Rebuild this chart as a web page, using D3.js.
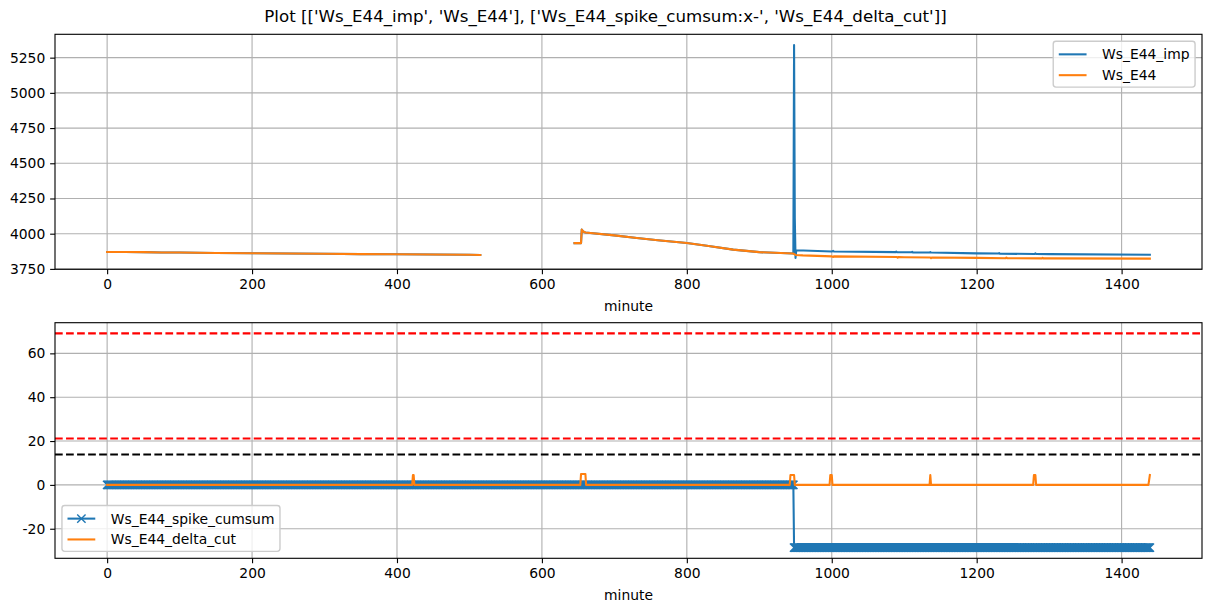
<!DOCTYPE html>
<html><head><meta charset="utf-8">
<script src="https://cdn.jsdelivr.net/npm/d3@7"></script>
<style>
body{margin:0;background:#fff}
svg{display:block}
text{font-family:"DejaVu Sans",sans-serif}
</style>
</head><body>
<svg id="c" width="1211" height="611"></svg>
<script>
// ---------------- data ----------------
const titleText = "Plot [['Ws_E44_imp', 'Ws_E44'], ['Ws_E44_spike_cumsum:x-', 'Ws_E44_delta_cut']]";
const xLabel = "minute";
const xTicks = [0, 200, 400, 600, 800, 1000, 1200, 1400];
const topYTicks = [3750, 4000, 4250, 4500, 4750, 5000, 5250];
const bottomYTicks = [-20, 0, 20, 40, 60];
const topLegend = ["Ws_E44_imp", "Ws_E44"];
const bottomLegend = ["Ws_E44_spike_cumsum", "Ws_E44_delta_cut"];

// Ws_E44 (orange); null = missing data
const wsMinutes = [0, 25, 50, 75, 100, 150, 200, 250, 300, 350, 400, 450, 500, 515, 580,
  645, 654, 655, 657, 660, 700, 731, 760, 800, 830, 864, 900, 947, 950, 960, 1000, 1002, 1003,
  1090, 1091, 1092, 1100, 1136, 1137, 1138, 1200, 1240, 1241, 1242, 1290, 1291, 1292, 1300, 1439];
const wsValues = [3870, 3870, 3869, 3867, 3866, 3863, 3861, 3859, 3857, 3855, 3854, 3852, 3850, 3849, null,
  3933, 3933, 4030, 4015, 4009, 3988, 3969, 3953, 3934, 3912, 3887, 3869, 3859, 3849, 3846, 3839, 3835, 3839,
  3834, 3830, 3834, 3833, 3831, 3827, 3831, 3828, 3826, 3830, 3826, 3825, 3829, 3825, 3825, 3823];

// Ws_E44_imp (blue); identical to Ws_E44 before the spike
const impMinutes = [0, 25, 50, 75, 100, 150, 200, 250, 300, 350, 400, 450, 500, 515, 580,
  645, 654, 655, 657, 660, 700, 731, 760, 800, 830, 864, 900, 947, 948, 949, 950, 951,
  1000, 1002, 1003, 1088, 1089, 1090, 1110, 1111, 1112, 1135, 1136, 1137, 1200, 1230, 1231, 1232,
  1280, 1281, 1282, 1300, 1439];
const impValues = [3870, 3870, 3869, 3867, 3866, 3863, 3861, 3859, 3857, 3855, 3854, 3852, 3850, 3849, null,
  3933, 3933, 4030, 4015, 4009, 3988, 3969, 3953, 3934, 3912, 3887, 3869, 3859, 5340, 4110, 3828, 3882,
  3874, 3878, 3873, 3869, 3873, 3868, 3868, 3872, 3867, 3866, 3870, 3866, 3860, 3859, 3863, 3858,
  3856, 3860, 3856, 3855, 3851];

// Ws_E44_spike_cumsum: constant runs, one sample per minute
const cumsumRunStart = [0, 948];
const cumsumRunEnd = [947, 1439];
const cumsumRunValue = [0, -28.6];

// Ws_E44_delta_cut (orange) breakpoints
const deltaMinutes = [0, 421, 422, 423, 424, 653, 654, 660, 661, 942, 943, 948, 949,
  997, 998, 1000, 1001, 1135, 1136, 1137, 1278, 1279, 1281, 1282, 1437, 1439];
const deltaValues = [0, 0, 4.5, 4.5, 0, 0, 5, 5, 0, 0, 4.5, 4.5, 0,
  0, 4.5, 4.5, 0, 0, 4.5, 0, 0, 4.5, 4.5, 0, 0, 4.5];

// horizontal reference lines
const redLevels = [69.1, 21.2];
const blackLevels = [13.9];

// ---------------- drawing ----------------
const PT = 100 / 72;
const FS = 10 * PT;
const C0 = "#1f77b4", C1 = "#ff7f0e";
const svg = d3.select("#c");
const left = 55, right = 1202;
const axTop = {y0: 34.3, y1: 269.3};
const axBot = {y0: 322.7, y1: 558.3};

function margin(ext) { const m = (ext[1] - ext[0]) * 0.05; return [ext[0] - m, ext[1] + m]; }

const allX = wsMinutes.concat(impMinutes, deltaMinutes, cumsumRunEnd, cumsumRunStart);
const x = d3.scaleLinear().domain(margin(d3.extent(allX))).range([left, right]);

const topExt = d3.extent(wsValues.concat(impValues).filter(v => v != null));
const yTop = d3.scaleLinear().domain(margin(topExt)).range([axTop.y1, axTop.y0]);
const botExt = d3.extent(cumsumRunValue.concat(deltaValues, redLevels, blackLevels));
const yBot = d3.scaleLinear().domain(margin(botExt)).range([axBot.y1, axBot.y0]);

// title
svg.append("text").attr("x", 605.5).attr("y", 22).attr("text-anchor", "middle")
  .attr("font-size", 12 * PT).attr("fill", "#000").text(titleText);

function drawAxes(id, ax, y, yTicks) {
  const g = svg.append("g");
  const defs = svg.append("defs");
  defs.append("clipPath").attr("id", id).append("rect")
    .attr("x", left).attr("y", ax.y0).attr("width", right - left).attr("height", ax.y1 - ax.y0);
  // grid
  const grid = g.append("g").attr("stroke", "#b0b0b0").attr("stroke-width", 0.8 * PT);
  xTicks.forEach(t => grid.append("line").attr("x1", x(t)).attr("x2", x(t)).attr("y1", ax.y0).attr("y2", ax.y1));
  yTicks.forEach(t => grid.append("line").attr("x1", left).attr("x2", right).attr("y1", y(t)).attr("y2", y(t)));
  const data = g.append("g").attr("clip-path", `url(#${id})`);
  // axes
  const xa = g.append("g").attr("transform", `translate(0,${ax.y1})`)
    .call(d3.axisBottom(x).tickValues(xTicks).tickSize(3.5 * PT).tickPadding(3.5 * PT).tickFormat(d3.format("d")));
  const ya = g.append("g").attr("transform", `translate(${left},0)`)
    .call(d3.axisLeft(y).tickValues(yTicks).tickSize(3.5 * PT).tickPadding(3.5 * PT).tickFormat(d => String(d)));
  [xa, ya].forEach(a => {
    a.select(".domain").remove();
    a.selectAll("line").attr("stroke", "#000").attr("stroke-width", 0.8 * PT);
    a.selectAll("text").attr("font-size", FS).attr("fill", "#000").attr("font-family", '"DejaVu Sans",sans-serif');
  });
  // spines
  svg.append("rect").attr("x", left).attr("y", ax.y0).attr("width", right - left)
    .attr("height", ax.y1 - ax.y0).attr("fill", "none").attr("stroke", "#000").attr("stroke-width", 0.8 * PT);
  svg.append("text").attr("x", (left + right) / 2).attr("y", ax.y1 + 41.5).attr("text-anchor", "middle")
    .attr("font-size", FS).attr("fill", "#000").text(xLabel);
  return data;
}

const topData = drawAxes("clipTop", axTop, yTop, topYTicks);
const botData = drawAxes("clipBot", axBot, yBot, bottomYTicks);

function pairs(ms, vs) { return ms.map((m, i) => [m, vs[i]]); }

function drawLine(g, pts, y, color) {
  const line = d3.line().defined(d => d[1] != null).x(d => x(d[0])).y(d => y(d[1]));
  return g.append("path").attr("d", line(pts)).attr("fill", "none").attr("stroke", color)
    .attr("stroke-width", 1.5 * PT).attr("stroke-linejoin", "round").attr("stroke-linecap", "square");
}

drawLine(topData, pairs(impMinutes, impValues), yTop, C0);
drawLine(topData, pairs(wsMinutes, wsValues), yTop, C1);

// cumsum with x markers
const cumsumPoints = [];
cumsumRunStart.forEach((s, i) => { for (let m = s; m <= cumsumRunEnd[i]; m++) cumsumPoints.push([m, cumsumRunValue[i]]); });
drawLine(botData, cumsumPoints, yBot, C0);
const ms = 6 * PT / 2;
let mp = "";
cumsumPoints.forEach(d => {
  const cx = x(d[0]), cy = yBot(d[1]);
  mp += `M${cx - ms},${cy - ms}L${cx + ms},${cy + ms}M${cx - ms},${cy + ms}L${cx + ms},${cy - ms}`;
});
botData.append("path").attr("d", mp).attr("fill", "none").attr("stroke", C0).attr("stroke-width", 1.0 * PT);

drawLine(botData, pairs(deltaMinutes, deltaValues), yBot, C1);

function hline(v, color) {
  botData.append("line").attr("x1", left).attr("x2", right).attr("y1", yBot(v)).attr("y2", yBot(v))
    .attr("stroke", color).attr("stroke-width", 1.5 * PT)
    .attr("stroke-dasharray", `${3.7 * 1.5 * PT},${1.6 * 1.5 * PT}`);
}
redLevels.forEach(v => hline(v, "#ff0000"));
blackLevels.forEach(v => hline(v, "#000000"));

// legends
function legend(labels, colors, markers, anchor) {
  const pad = 0.4 * FS, handleLen = 2 * FS, textOff = handleLen + 0.8 * FS + 4.4, rowH = FS + 0.5 * FS;
  const g = svg.append("g");
  const box = g.append("rect");
  const texts = labels.map(l => g.append("text").attr("font-size", FS).attr("fill", "#000").text(l));
  const tw = d3.max(texts, t => t.node().getComputedTextLength());
  const w = pad + textOff + tw + pad;
  const h = pad * 2 + FS * labels.length + 0.5 * FS * (labels.length - 1);
  const bx = anchor.right != null ? anchor.right - w : anchor.left;
  const by = anchor.top != null ? anchor.top : anchor.bottom - h;
  box.attr("x", bx).attr("y", by).attr("width", w).attr("height", h).attr("rx", 0.2 * FS)
    .attr("fill", "#fff").attr("fill-opacity", 0.8).attr("stroke", "#cccccc").attr("stroke-width", 1.0 * PT);
  labels.forEach((l, i) => {
    const cy = by + pad + FS / 2 + i * rowH + 0.6;
    const hx = bx + pad;
    g.append("line").attr("x1", hx).attr("x2", hx + handleLen).attr("y1", cy).attr("y2", cy)
      .attr("stroke", colors[i]).attr("stroke-width", 1.5 * PT);
    if (markers[i]) {
      const mx = hx + handleLen / 2;
      g.append("path").attr("d", `M${mx - ms},${cy - ms}L${mx + ms},${cy + ms}M${mx - ms},${cy + ms}L${mx + ms},${cy - ms}`)
        .attr("stroke", colors[i]).attr("stroke-width", 1.0 * PT).attr("fill", "none");
    }
    texts[i].attr("x", hx + textOff).attr("y", cy).attr("dy", "0.36em");
  });
}
const bap = 0.5 * FS;
legend(topLegend, [C0, C1], [false, false], {right: right - bap, top: axTop.y0 + bap});
legend(bottomLegend, [C0, C1], [true, false], {left: left + bap, bottom: axBot.y1 - bap});
</script>
</body></html>
